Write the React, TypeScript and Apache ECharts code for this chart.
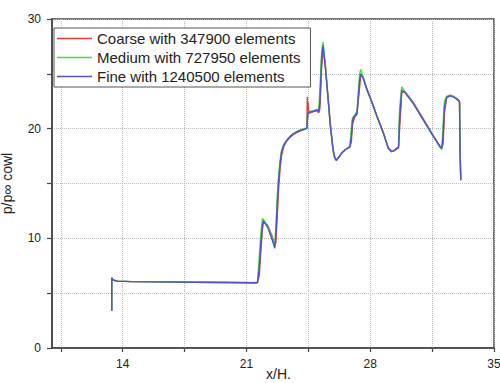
import React, { useEffect, useRef } from "react";
import * as echarts from "echarts";

const seriesNames = ["Coarse with 347900 elements", "Medium with 727950 elements", "Fine with 1240500 elements"];
const seriesColors = ["#e03c3c", "#3ee03e", "#5050d0"];

const xValues = [13.38, 13.38, 13.45, 13.7, 14.5, 16, 18, 20, 21.3, 21.62, 21.72, 21.8, 21.9, 21.96, 22.2, 22.45, 22.6, 22.66, 22.74, 22.82, 22.9, 22.98, 23.1, 23.27, 23.45, 23.64, 23.85, 24.05, 24.3, 24.42, 24.44, 24.46, 24.48, 24.52, 24.8, 25.0, 25.08, 25.15, 25.25, 25.33, 25.45, 25.6, 25.74, 25.9, 26.0, 26.08, 26.2, 26.4, 26.6, 26.85, 26.93, 27.0, 27.13, 27.25, 27.4, 27.46, 27.6, 27.8, 28.08, 28.36, 28.74, 29.02, 29.21, 29.35, 29.5, 29.6, 29.66, 29.78, 29.96, 30.43, 31.0, 31.57, 31.95, 32.05, 32.12, 32.2, 32.32, 32.51, 32.7, 32.9, 33.05, 33.08, 33.12];

const coarseY = [3.4, 6.4, 6.2, 6.1, 6.05, 6.03, 6.0, 5.97, 5.95, 5.95, 6.6, 8.5, 10.8, 11.5, 11.2, 10.2, 9.4, 9.6, 12.0, 14.6, 16.3, 17.5, 18.35, 18.85, 19.2, 19.45, 19.65, 19.8, 19.95, 20.05, 22.9, 21.0, 22.4, 21.4, 21.55, 21.65, 21.45, 21.8, 25.6, 27.3, 26.0, 23.2, 20.5, 18.1, 17.35, 17.15, 17.35, 17.8, 18.1, 18.3, 18.8, 20.4, 21.1, 21.3, 23.8, 24.9, 24.7, 23.7, 22.5, 21.25, 19.65, 18.25, 17.95, 18.0, 18.15, 18.25, 20.0, 23.3, 23.4, 22.4, 20.9, 19.35, 18.4, 18.25, 18.6, 21.5, 22.8, 23.05, 22.95, 22.75, 22.5, 18.0, 15.3];

const mediumY = [3.4, 6.4, 6.2, 6.1, 6.05, 6.03, 6.0, 5.97, 5.95, 6.0, 8.2, 10.2, 11.8, 11.7, 11.1, 10.0, 9.3, 11.0, 13.8, 15.8, 17.1, 18.0, 18.55, 18.95, 19.3, 19.55, 19.75, 19.9, 20.0, 20.1, 21.0, 21.4, 21.5, 21.55, 21.65, 21.75, 21.6, 23.5, 27.0, 27.9, 25.9, 23.0, 20.3, 18.0, 17.3, 17.1, 17.35, 17.8, 18.1, 18.4, 20.0, 21.0, 21.25, 21.6, 25.0, 25.4, 24.7, 23.6, 22.45, 21.2, 19.6, 18.2, 17.9, 18.0, 18.2, 18.4, 21.8, 23.8, 23.4, 22.3, 20.8, 19.3, 18.3, 18.1, 20.5, 22.5, 22.95, 23.05, 22.95, 22.7, 22.45, 18.5, 15.4];

const fineY = [3.4, 6.4, 6.2, 6.1, 6.05, 6.03, 6.0, 5.97, 5.95, 5.95, 7.2, 9.2, 11.2, 11.6, 11.0, 9.9, 9.1, 10.3, 13.0, 15.3, 16.8, 17.8, 18.45, 18.9, 19.25, 19.5, 19.7, 19.85, 19.95, 20.05, 20.6, 21.2, 21.45, 21.5, 21.6, 21.7, 21.5, 22.3, 26.3, 27.6, 25.8, 23.0, 20.3, 18.0, 17.3, 17.1, 17.35, 17.8, 18.1, 18.35, 19.3, 20.8, 21.2, 21.4, 24.4, 25.0, 24.6, 23.6, 22.45, 21.2, 19.6, 18.2, 17.9, 18.0, 18.2, 18.3, 20.8, 23.5, 23.3, 22.3, 20.8, 19.3, 18.35, 18.2, 19.3, 22.0, 22.85, 23.0, 22.9, 22.7, 22.45, 18.0, 15.3];

const xTickValues = [10.5, 14, 17.5, 21, 24.5, 28, 31.5, 35];
const xLabelValues = [14, 21, 28, 35];
const yLabelValues = [0, 10, 20, 30];
const xAxisTitle = "x/H.";
const yAxisTitle = "p/p\u221E cowl";

const FONT = "'Liberation Sans', Arial, sans-serif";

export default function App() {
  const ref = useRef<HTMLDivElement>(null);
  useEffect(() => {
    if (!ref.current) return;
    const chart = echarts.init(ref.current, null, { renderer: "svg" });
    const ys = [coarseY, mediumY, fineY];
    const series = ys.map((arr, i) => ({
      name: seriesNames[i],
      type: "line",
      data: xValues.map((x, j) => [x, arr[j]]),
      symbol: "none",
      showSymbol: false,
      lineStyle: { color: seriesColors[i], width: 1.4 },
      itemStyle: { color: seriesColors[i] },
      z: 2 + i,
    }));
    chart.setOption({
      animation: false,
      backgroundColor: "#ffffff",
      grid: {
        left: 52, right: 6, top: 19, bottom: 35,
        outerBoundsMode: "none",
        containLabel: false,
        show: true, borderColor: "#444", borderWidth: 1.5, backgroundColor: "transparent",
      },
      graphic: [
        {
          type: "text",
          left: 266,
          top: 367,
          style: { text: xAxisTitle, fontSize: 14, fill: "#222", fontFamily: FONT },
        },
      ],
      legend: {
        orient: "vertical",
        left: 54,
        top: 28,
        padding: [3, 10, 3, 3],
        itemGap: 4,
        itemWidth: 35,
        itemHeight: 1.5,
        icon: "rect",
        backgroundColor: "#ffffff",
        borderColor: "#555",
        borderWidth: 1,
        textStyle: { fontSize: 15, color: "#222", fontFamily: FONT, lineHeight: 15 },
        data: seriesNames,
      },
      xAxis: {
        type: "value",
        min: 10,
        max: 35,
        axisLine: { show: true, onZero: false, lineStyle: { color: "#444", width: 1.5 } },
        axisTick: { show: true, customValues: xTickValues, length: 4, lineStyle: { color: "#444", width: 1.2 } },
        axisLabel: { customValues: xLabelValues, color: "#222", fontSize: 12, fontFamily: FONT, margin: 10 },
        splitLine: { show: true, lineStyle: { type: "dotted", color: "#bbb", width: 1 } },
      },
      yAxis: {
        type: "value",
        min: 0,
        max: 30,
        interval: 5,
        name: yAxisTitle,
        nameLocation: "middle",
        nameGap: 38,
        nameTextStyle: { fontSize: 14, color: "#222", fontFamily: FONT },
        axisLine: { show: true, lineStyle: { color: "#444", width: 1.5 } },
        axisTick: { show: true, length: 5, lineStyle: { color: "#444", width: 1.2 } },
        axisLabel: {
          color: "#222",
          fontSize: 12,
          fontFamily: FONT,
          margin: 11,
          formatter: (v: number) => (yLabelValues.indexOf(v) >= 0 ? String(v) : ""),
        },
        splitLine: { show: true, lineStyle: { type: "dotted", color: "#bbb", width: 1 } },
      },
      series,
    });
    return () => chart.dispose();
  }, []);
  return (
    <div
      ref={ref}
      style={{ position: "fixed", left: 0, top: 0, width: 500, height: 383, background: "#fff" }}
    />
  );
}
